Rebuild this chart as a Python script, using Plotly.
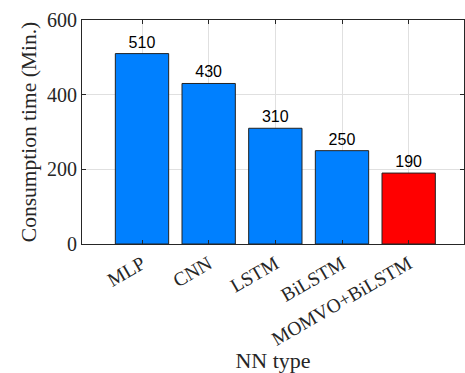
import plotly.graph_objects as go

categories = ["MLP", "CNN", "LSTM", "BiLSTM", "MOMVO+BiLSTM"]
times = [510, 430, 310, 250, 190]
colors = ["#0080FF", "#0080FF", "#0080FF", "#0080FF", "#FF0000"]

fig = go.Figure(go.Bar(
    x=categories, y=times,
    marker=dict(color=colors, line=dict(color="#222222", width=1)),
    width=0.8,
    text=[str(v) for v in times], textposition="outside",
    textfont=dict(family="Liberation Sans, Arial", size=16, color="black"),
    cliponaxis=False,
))

serif = "Liberation Serif, Times New Roman, serif"
fig.update_layout(
    width=465, height=373,
    margin=dict(l=82, r=1, t=20, b=129),
    plot_bgcolor="white", paper_bgcolor="white",
    showlegend=False,
    font=dict(family=serif, size=20, color="#262626"),
)
fig.update_xaxes(
    range=[-0.9, 4.83],
    tickangle=-30,
    automargin=False,
    ticks="inside", ticklen=4, tickcolor="#262626",
    showline=True, linecolor="#262626", linewidth=1, mirror="allticks",
    showgrid=True, gridcolor="#E0E0E0", gridwidth=1,
    tickfont=dict(family=serif, size=19.5, color="#262626"),
    title=dict(text="NN type", font=dict(family=serif, size=22, color="#262626"), standoff=10),
)
fig.update_yaxes(
    range=[0, 600], tickvals=[0, 200, 400, 600],
    automargin=False,
    ticks="inside", ticklen=4, tickcolor="#262626",
    showline=True, linecolor="#262626", linewidth=1, mirror="allticks",
    showgrid=True, gridcolor="#E0E0E0", gridwidth=1,
    zeroline=False,
    tickfont=dict(family=serif, size=20, color="#262626"),
    title=dict(text="Consumption time (Min.)", font=dict(family=serif, size=21.5, color="#262626"), standoff=4),
)

fig.write_html("out.html")
